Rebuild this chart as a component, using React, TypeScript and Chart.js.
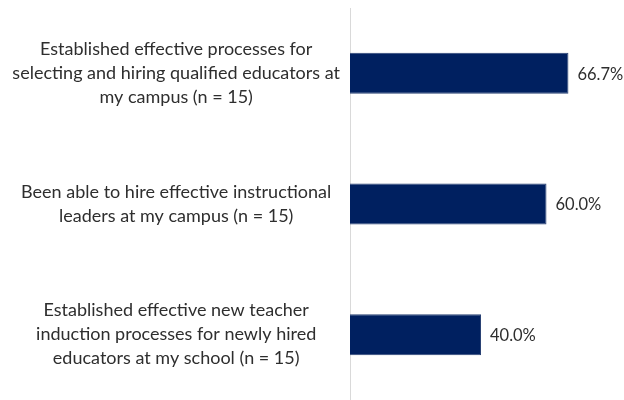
import React, { useEffect, useRef } from "react";
import { Chart, registerables } from "chart.js";

Chart.register(...registerables);

const categories: string[][] = [
  ["Established effective processes for", "selecting and hiring qualified educators at", "my campus (n = 15)"],
  ["Been able to hire effective instructional", "leaders at my campus (n = 15)"],
  ["Established effective new teacher", "induction processes for newly hired", "educators at my school (n = 15)"],
];
const values: number[] = [66.7, 60.0, 40.0];
const valueLabels: string[] = ["66.7%", "60.0%", "40.0%"];

const FONT = "Lato, 'Open Sans', sans-serif";
const TEXT = "#2e2e2e";

const labelPlugin = {
  id: "valueLabels",
  afterDatasetsDraw(chart: any) {
    const ctx = chart.ctx;
    const meta = chart.getDatasetMeta(0);
    ctx.save();
    ctx.font = `16.5px ${FONT}`;
    ctx.fillStyle = TEXT;
    ctx.textAlign = "left";
    ctx.textBaseline = "middle";
    meta.data.forEach((bar: any, i: number) => {
      ctx.fillText(valueLabels[i], bar.x + 9, bar.y + 1);
    });
    ctx.restore();
  },
};

export default function App() {
  const ref = useRef<HTMLCanvasElement | null>(null);
  useEffect(() => {
    if (!ref.current) return;
    const chart = new Chart(ref.current, {
      type: "bar",
      data: {
        labels: categories,
        datasets: [
          {
            data: values,
            backgroundColor: "#002060",
            borderColor: "#2a4274",
            borderWidth: 1,
            barPercentage: 0.314,
            categoryPercentage: 1,
          },
        ],
      },
      options: {
        indexAxis: "y",
        animation: false,
        responsive: true,
        maintainAspectRatio: false,
        layout: { padding: { top: 8, right: 12, bottom: 0, left: 0 } },
        plugins: { legend: { display: false }, tooltip: { enabled: false } },
        scales: {
          x: {
            min: 0,
            max: 80,
            display: false,
          },
          y: {
            grid: { display: false, drawTicks: false },
            border: { display: true, color: "#d9d9d9", width: 1 },
            afterFit: (scale: any) => {
              scale.width = 350;
              scale.paddingTop = 0;
              scale.paddingBottom = 0;
            },
            ticks: {
              crossAlign: "center",
              padding: 10,
              color: TEXT,
              font: { family: FONT, size: 18, lineHeight: 1.333 },
            },
          },
        },
      },
      plugins: [labelPlugin],
    });
    return () => chart.destroy();
  }, []);
  return (
    <div style={{ position: "absolute", left: 0, top: 0, width: 624, height: 400, background: "#fff" }}>
      <canvas ref={ref} />
    </div>
  );
}
